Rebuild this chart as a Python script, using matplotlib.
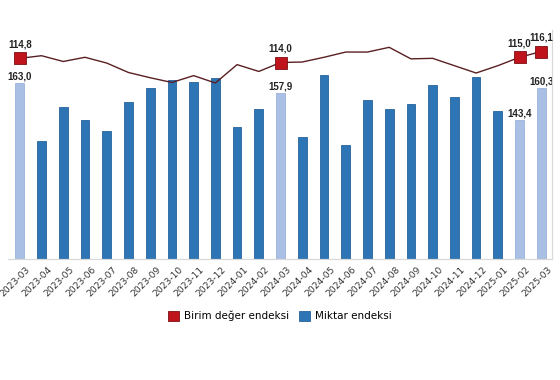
import matplotlib
matplotlib.use('Agg')
import matplotlib.pyplot as plt
import matplotlib.transforms as mtransforms
from matplotlib.patches import Patch

# aylar
aylar = ['2023-03', '2023-04', '2023-05', '2023-06', '2023-07', '2023-08', '2023-09',
         '2023-10', '2023-11', '2023-12', '2024-01', '2024-02', '2024-03', '2024-04',
         '2024-05', '2024-06', '2024-07', '2024-08', '2024-09', '2024-10', '2024-11',
         '2024-12', '2025-01', '2025-02', '2025-03']

# Miktar endeksi (sütun)
miktar = [163.0, 132.2, 150.5, 143.4, 137.5, 152.9, 160.3, 164.8, 163.5, 166.0,
          139.8, 149.3, 157.9, 134.3, 167.4, 130.0, 154.1, 149.3, 151.8, 162.1,
          155.5, 166.2, 148.2, 143.4, 160.3]

# Birim değer endeksi (çizgi)
birim = [114.8, 115.3, 114.2, 115.0, 113.9, 112.1, 111.1, 110.2, 111.5, 110.1,
         113.6, 112.3, 114.0, 114.1, 115.0, 116.0, 116.0, 116.9, 114.7, 114.8,
         113.4, 112.0, 113.4, 115.0, 116.1]

# etiketli / açık renkli aylar
vurgu = ['2023-03', '2024-03', '2025-02', '2025-03']

koyu_mavi = '#2E75B6'
acik_mavi = '#A9BFE3'
kirmizi = '#C0141C'
cizgi_rengi = '#5A1F22'

plt.rcParams['font.family'] = ['DejaVu Sans']

fig = plt.figure(figsize=(5.6, 3.8), dpi=100)
ax = fig.add_axes([0.014, 0.318, 0.972, 0.603])
ax2 = ax.twinx()

x = list(range(len(aylar)))
renkler = [acik_mavi if a in vurgu else koyu_mavi for a in aylar]
kenarlar = ['#9AB2DA' if a in vurgu else '#25639C' for a in aylar]
ax.bar(x, miktar, width=0.4, color=renkler, edgecolor=kenarlar, linewidth=0.6, zorder=2)
ax.set_ylim(68.9, 191.5)
ax.set_xlim(-0.55, len(aylar) - 0.5)

for i, a in enumerate(aylar):
    if a in vurgu:
        ax.text(i, miktar[i] + 0.8, f'{miktar[i]:.1f}'.replace('.', ','),
                ha='center', va='bottom', fontsize=7, fontweight='bold',
                family=['Liberation Sans'], color='#222222')

ax2.plot(x, birim, color=cizgi_rengi, linewidth=1.0, zorder=3)
mx = [i for i, a in enumerate(aylar) if a in vurgu]
ax2.plot(mx, [birim[i] for i in mx], linestyle='none', marker='s', markersize=8,
         markerfacecolor=kirmizi, markeredgecolor='#7A0F14', markeredgewidth=0.6, zorder=4)
for i in mx:
    ax2.text(i, birim[i] + 1.7, f'{birim[i]:.1f}'.replace('.', ','),
             ha='center', va='bottom', fontsize=7, fontweight='bold',
             family=['Liberation Sans'], color='#222222')
ax2.set_ylim(76.5, 120.2)

for a in (ax, ax2):
    a.set_yticks([])
    for s in ['top', 'left']:
        a.spines[s].set_visible(False)
    a.spines['bottom'].set_color('#D9D9D9')
    a.spines['right'].set_color('#D9D9D9')

ax.set_xticks(x)
ax.set_xticklabels(aylar, rotation=45, ha='right', rotation_mode='anchor', fontsize=6.6,
                   color='#333333')
ax.tick_params(axis='x', length=0, pad=4)
kaydir = mtransforms.ScaledTranslation(6 / 100, 0, fig.dpi_scale_trans)
for lbl in ax.get_xticklabels():
    lbl.set_transform(lbl.get_transform() + kaydir)

tutamaclar = [Patch(facecolor=kirmizi, edgecolor='#7A0F14', linewidth=0.6),
              Patch(facecolor=koyu_mavi, edgecolor='#25639C', linewidth=0.6)]
fig.legend(tutamaclar, ['Birim değer endeksi', 'Miktar endeksi'], loc='center',
           bbox_to_anchor=(0.5, 0.168), ncol=2, frameon=False, fontsize=7.5,
           handlelength=1.0, handleheight=1.0, handletextpad=0.5, columnspacing=1.0)

fig.savefig('out.png', dpi=100)
